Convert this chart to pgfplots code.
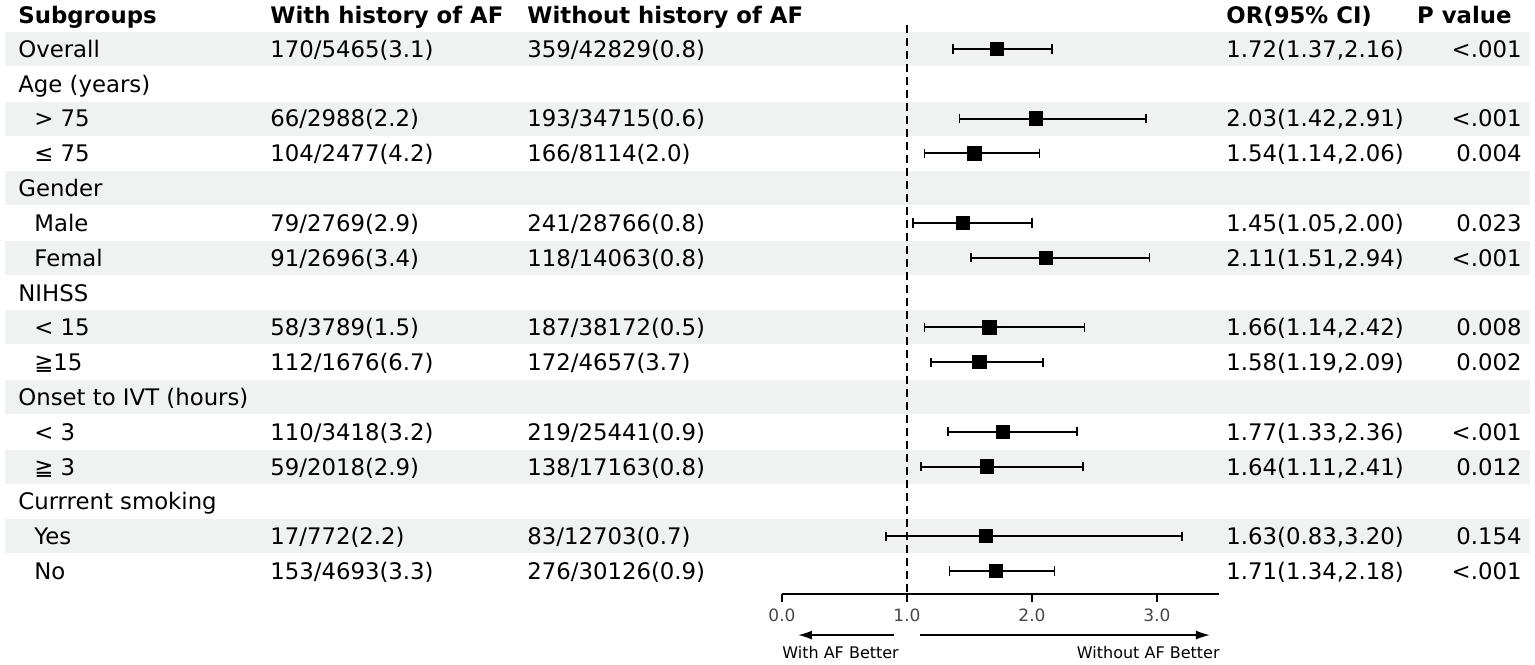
\documentclass[border=0pt]{standalone}
\usepackage{pgfplots}
\pgfplotsset{compat=1.18}
\usepackage{pgfplotstable}
\usepackage{fontspec}
\setmainfont{DejaVu Sans}
\usetikzlibrary{arrows.meta}
\definecolor{band}{RGB}{239,242,241}
\definecolor{ticklab}{RGB}{70,70,70}

% row index, odds ratio, lower and upper 95% CI, error to upper/lower
\pgfplotstableread{
row or lo hi ep em
0 1.72 1.37 2.16 0.44 0.35
2 2.03 1.42 2.91 0.88 0.61
3 1.54 1.14 2.06 0.52 0.40
5 1.45 1.05 2.00 0.55 0.40
6 2.11 1.51 2.94 0.83 0.60
8 1.66 1.14 2.42 0.76 0.52
9 1.58 1.19 2.09 0.51 0.39
11 1.77 1.33 2.36 0.59 0.44
12 1.64 1.11 2.41 0.77 0.53
14 1.63 0.83 3.20 1.57 0.80
15 1.71 1.34 2.18 0.47 0.37
}\ordata

\tikzset{
  cell/.style={anchor=base west, inner sep=0pt, font=\fontsize{11.4}{13}\selectfont, yshift=-4.2pt},
  cellr/.style={cell, anchor=base east},
  hdr/.style={cell, font=\fontsize{11.4}{13}\selectfont\bfseries},
  hdrr/.style={hdr, anchor=base east},
}

\begin{document}
\begin{tikzpicture}
\begin{axis}[
  scale only axis, width=218.75pt, height=297pt,
  xmin=0, xmax=3.5, ymin=-15.66, ymax=1.408,
  axis x line=bottom, axis y line=none,
  x axis line style={-, line width=0.8pt},
  xtick={0,1,2,3}, xticklabels={0.0,1.0,2.0,3.0},
  tick align=outside, major tick length=4pt,
  every tick/.style={black, line width=0.8pt},
  xticklabel style={font=\fontsize{8.5}{10}\selectfont, text=ticklab},
  clip=false,
]
% bounding box of the whole figure
\path (axis cs:-6.256,1.408) rectangle (axis cs:6.024,-17.672);
% shaded bands
\pgfplotsinvokeforeach{0,2,4,6,8,10,12,14}{
  \fill[band] (axis cs:-6.216,{-#1+0.49}) rectangle (axis cs:5.984,{-#1-0.49});
}
% reference line
\addplot[black, line width=1pt, dash pattern=on 4pt off 2.5pt] coordinates {(1,0.69) (1,-15.66)};
% estimates
\addplot[black, only marks, mark=square*, mark size=3.2pt, line width=0.8pt,
  error bars/.cd, x dir=both, x explicit,
  error mark=|, error mark options={mark size=2.3pt, line width=0.9pt, black},
  error bar style={line width=0.95pt, black}]
  table[x=or, y expr=-\thisrow{row}, x error plus=ep, x error minus=em] {\ordata};
% headers
\node[hdr] at (axis cs:-6.112,0.977) {Subgroups};
\node[hdr] at (axis cs:-4.096,0.977) {With history of AF};
\node[hdr] at (axis cs:-2.04,0.977) {Without history of AF};
\node[hdr] at (axis cs:3.552,0.977) {OR(95\% CI)};
\node[hdrr] at (axis cs:5.84,0.977) {P value};
% rows
\node[cell] at (axis cs:-6.112,0) {Overall};
\node[cell] at (axis cs:-4.096,0) {170/5465(3.1)};
\node[cell] at (axis cs:-2.04,0) {359/42829(0.8)};
\node[cell] at (axis cs:3.552,0) {1.72(1.37,2.16)};
\node[cellr] at (axis cs:5.92,0) {<.001};

\node[cell] at (axis cs:-6.112,-1) {Age (years)};

\node[cell] at (axis cs:-5.984,-2) {> 75};
\node[cell] at (axis cs:-4.096,-2) {66/2988(2.2)};
\node[cell] at (axis cs:-2.04,-2) {193/34715(0.6)};
\node[cell] at (axis cs:3.552,-2) {2.03(1.42,2.91)};
\node[cellr] at (axis cs:5.92,-2) {<.001};

\node[cell] at (axis cs:-5.984,-3) {≤ 75};
\node[cell] at (axis cs:-4.096,-3) {104/2477(4.2)};
\node[cell] at (axis cs:-2.04,-3) {166/8114(2.0)};
\node[cell] at (axis cs:3.552,-3) {1.54(1.14,2.06)};
\node[cellr] at (axis cs:5.92,-3) {0.004};

\node[cell] at (axis cs:-6.112,-4) {Gender};

\node[cell] at (axis cs:-5.984,-5) {Male};
\node[cell] at (axis cs:-4.096,-5) {79/2769(2.9)};
\node[cell] at (axis cs:-2.04,-5) {241/28766(0.8)};
\node[cell] at (axis cs:3.552,-5) {1.45(1.05,2.00)};
\node[cellr] at (axis cs:5.92,-5) {0.023};

\node[cell] at (axis cs:-5.984,-6) {Femal};
\node[cell] at (axis cs:-4.096,-6) {91/2696(3.4)};
\node[cell] at (axis cs:-2.04,-6) {118/14063(0.8)};
\node[cell] at (axis cs:3.552,-6) {2.11(1.51,2.94)};
\node[cellr] at (axis cs:5.92,-6) {<.001};

\node[cell] at (axis cs:-6.112,-7) {NIHSS};

\node[cell] at (axis cs:-5.984,-8) {< 15};
\node[cell] at (axis cs:-4.096,-8) {58/3789(1.5)};
\node[cell] at (axis cs:-2.04,-8) {187/38172(0.5)};
\node[cell] at (axis cs:3.552,-8) {1.66(1.14,2.42)};
\node[cellr] at (axis cs:5.92,-8) {0.008};

\node[cell] at (axis cs:-5.984,-9) {≧15};
\node[cell] at (axis cs:-4.096,-9) {112/1676(6.7)};
\node[cell] at (axis cs:-2.04,-9) {172/4657(3.7)};
\node[cell] at (axis cs:3.552,-9) {1.58(1.19,2.09)};
\node[cellr] at (axis cs:5.92,-9) {0.002};

\node[cell] at (axis cs:-6.112,-10) {Onset to IVT (hours)};

\node[cell] at (axis cs:-5.984,-11) {< 3};
\node[cell] at (axis cs:-4.096,-11) {110/3418(3.2)};
\node[cell] at (axis cs:-2.04,-11) {219/25441(0.9)};
\node[cell] at (axis cs:3.552,-11) {1.77(1.33,2.36)};
\node[cellr] at (axis cs:5.92,-11) {<.001};

\node[cell] at (axis cs:-5.984,-12) {≧ 3};
\node[cell] at (axis cs:-4.096,-12) {59/2018(2.9)};
\node[cell] at (axis cs:-2.04,-12) {138/17163(0.8)};
\node[cell] at (axis cs:3.552,-12) {1.64(1.11,2.41)};
\node[cellr] at (axis cs:5.92,-12) {0.012};

\node[cell] at (axis cs:-6.112,-13) {Currrent smoking};

\node[cell] at (axis cs:-5.984,-14) {Yes};
\node[cell] at (axis cs:-4.096,-14) {17/772(2.2)};
\node[cell] at (axis cs:-2.04,-14) {83/12703(0.7)};
\node[cell] at (axis cs:3.552,-14) {1.63(0.83,3.20)};
\node[cellr] at (axis cs:5.92,-14) {0.154};

\node[cell] at (axis cs:-5.984,-15) {No};
\node[cell] at (axis cs:-4.096,-15) {153/4693(3.3)};
\node[cell] at (axis cs:-2.04,-15) {276/30126(0.9)};
\node[cell] at (axis cs:3.552,-15) {1.71(1.34,2.18)};
\node[cellr] at (axis cs:5.92,-15) {<.001};
% direction arrows
\draw[-{Latex[length=7pt,width=4.5pt]}, line width=0.8pt] (axis cs:0.896,-16.84) -- (axis cs:0.128,-16.84);
\draw[-{Latex[length=7pt,width=4.5pt]}, line width=0.8pt] (axis cs:1.104,-16.84) -- (axis cs:3.424,-16.84);
\node[anchor=west, inner sep=0pt, font=\fontsize{8}{9}\selectfont] at (axis cs:0,-17.33) {With AF Better};
\node[anchor=east, inner sep=0pt, font=\fontsize{8}{9}\selectfont] at (axis cs:3.504,-17.33) {Without AF Better};
\end{axis}
\end{tikzpicture}
\end{document}
